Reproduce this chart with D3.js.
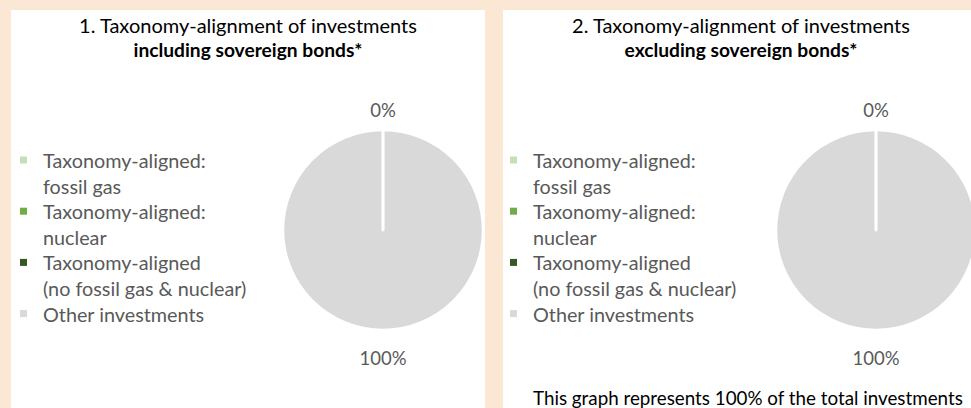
<!DOCTYPE html>
<html><head><meta charset="utf-8">
<script src="https://cdn.jsdelivr.net/npm/d3@7"></script>
<style>
html,body{margin:0;padding:0;background:#fff;}
svg{display:block;}
text{font-family:Lato,"Open Sans",sans-serif;}
</style></head>
<body>
<script>
// ---- data ----
const categories = ["Taxonomy-aligned:\nfossil gas", "Taxonomy-aligned:\nnuclear", "Taxonomy-aligned\n(no fossil gas & nuclear)", "Other investments"];
const colors = ["#C5E0B4", "#70AD47", "#385723", "#D9D9D9"];
const valuesIncl = [0, 0, 0, 100];
const valuesExcl = [0, 0, 0, 100];
const titlesLine1 = ["1. Taxonomy-alignment of investments", "2. Taxonomy-alignment of investments"];
const titlesLine2 = ["including sovereign bonds*", "excluding sovereign bonds*"];
const footnote = "This graph represents 100% of the total investments";

const W = 971, H = 408;
const svg = d3.select("body").append("svg").attr("width", W).attr("height", H);

// background frame
svg.append("rect").attr("width", W).attr("height", H).attr("fill", "#FAE7D4");
const panels = [
  {x: 11, w: 474, values: valuesIncl, t1: titlesLine1[0], t2: titlesLine2[0], cx: 383, tcx: 248, legendX: 20},
  {x: 503, w: 468, values: valuesExcl, t1: titlesLine1[1], t2: titlesLine2[1], cx: 876, tcx: 741, legendX: 510}
];

const pie = d3.pie().sort(null).value(d => d);
const R = 100, cy = 230;
const arc = d3.arc().innerRadius(0).outerRadius(R);
const labelArc = d3.arc().innerRadius(R + 24).outerRadius(R + 24);

panels.forEach((p, pi) => {
  const g = svg.append("g");
  g.append("rect").attr("x", p.x).attr("y", 10).attr("width", p.w).attr("height", H - 10).attr("fill", "#fff");
  g.append("text").attr("x", p.tcx).attr("y", 25).attr("text-anchor", "middle").attr("dominant-baseline", "central")
    .attr("font-size", 20).attr("fill", "#000").text(p.t1);
  g.append("text").attr("x", p.tcx).attr("y", 49).attr("text-anchor", "middle").attr("dominant-baseline", "central")
    .attr("font-size", 19.2).attr("font-weight", "bold").attr("fill", "#000").text(p.t2);

  const clip = g.append("clipPath").attr("id", "clip" + pi);
  clip.append("rect").attr("x", p.x).attr("y", 10).attr("width", p.w).attr("height", H - 10);
  const pg = g.append("g").attr("clip-path", `url(#clip${pi})`).append("g")
    .attr("transform", `translate(${p.cx},${cy})`);
  const arcs = pie(p.values);
  // draw largest first, then zero slices on top so their borders show
  const order = arcs.slice().sort((a, b) => b.value - a.value);
  pg.selectAll("path").data(order).join("path")
    .attr("d", arc).attr("fill", (d) => colors[d.index])
    .attr("stroke", "#fff").attr("stroke-width", 2.5).attr("stroke-linejoin", "round");

  const seen = new Set();
  const labels = arcs.filter(d => {
    const key = Math.round(d.startAngle * 100) + "_" + Math.round(d.endAngle * 100);
    if (seen.has(key)) return false; seen.add(key); return true;
  });
  pg.selectAll("text.lbl").data(labels).join("text").attr("class", "lbl")
    .attr("transform", d => { const c = labelArc.centroid(d); return `translate(${c[0]},${c[1] + 4})`; })
    .attr("text-anchor", "middle").attr("dominant-baseline", "central")
    .attr("font-size", 18.5).attr("fill", "#595959")
    .text(d => d3.format(".0%")(d.value / d3.sum(p.values)));

  // legend
  const lineH = 25.6;
  let row = 0;
  categories.forEach((c, i) => {
    const lines = c.split("\n");
    const y0 = 160 + row * lineH;
    g.append("rect").attr("x", p.legendX).attr("y", y0 - 3.5).attr("width", 7).attr("height", 7).attr("fill", colors[i]);
    lines.forEach((ln, j) => {
      g.append("text").attr("x", p.legendX + 23).attr("y", y0 + j * lineH)
        .attr("dominant-baseline", "central").attr("font-size", 19.8).attr("fill", "#595959").text(ln);
    });
    row += lines.length;
  });
});

svg.append("text").attr("x", 533).attr("y", 397).attr("dominant-baseline", "central")
  .attr("font-size", 18.8).attr("fill", "#000").text(footnote);
</script>
</body></html>
